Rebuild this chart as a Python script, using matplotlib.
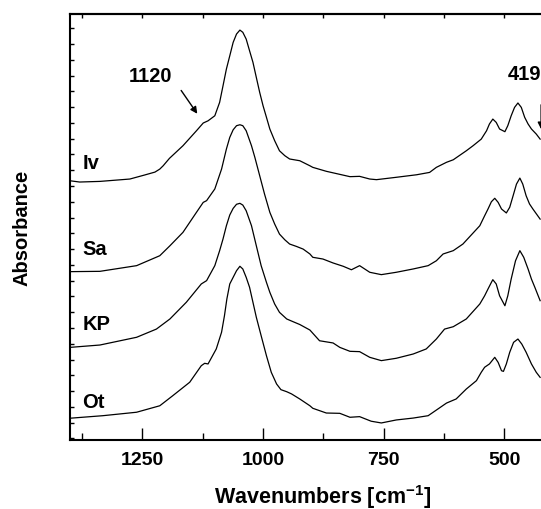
import numpy as np
import matplotlib
matplotlib.use('Agg')
import matplotlib.pyplot as plt
from matplotlib.ticker import MultipleLocator

plt.rcParams['font.family'] = ['Liberation Sans', 'DejaVu Sans']
plt.rcParams['mathtext.fontset'] = 'custom'
plt.rcParams['mathtext.rm'] = 'Liberation Sans'
plt.rcParams['mathtext.bf'] = 'Liberation Sans:bold'
plt.rcParams['mathtext.default'] = 'bf'

# spectra (wavenumber, absorbance in arbitrary offset units)
iv_wn = [1400, 1380, 1338, 1276, 1246, 1224, 1214, 1207, 1194, 1166, 1138, 1124, 1114, 1100,
         1090, 1083, 1076, 1069, 1062, 1055, 1048, 1042, 1035, 1028, 1021, 1014, 1007, 1000,
         993, 986, 976, 966, 955, 945, 924, 903, 897, 869, 820, 800, 779, 765, 724, 682,
         655, 641, 620, 606, 579, 565, 548, 537, 531, 524, 517, 510, 499, 493, 486, 479,
         472, 465, 458, 451, 444, 434, 426]
iv_ab = [1.633, 1.625, 1.629, 1.644, 1.669, 1.688, 1.707, 1.728, 1.775, 1.855, 1.950, 1.999,
         2.013, 2.045, 2.130, 2.235, 2.341, 2.425, 2.510, 2.563, 2.588, 2.574, 2.531, 2.457,
         2.384, 2.288, 2.193, 2.108, 2.035, 1.961, 1.887, 1.823, 1.792, 1.771, 1.760, 1.728,
         1.718, 1.693, 1.659, 1.661, 1.644, 1.640, 1.655, 1.671, 1.686, 1.718, 1.750, 1.766,
         1.823, 1.855, 1.897, 1.950, 1.993, 2.024, 2.003, 1.961, 1.944, 1.982, 2.045, 2.098,
         2.126, 2.098, 2.035, 1.993, 1.961, 1.929, 1.897]

sa_wn = [1400, 1338, 1262, 1214, 1193, 1166, 1138, 1124, 1117, 1100, 1086, 1076, 1069, 1062,
         1055, 1048, 1042, 1035, 1024, 1017, 1007, 997, 986, 976, 966, 955, 945, 931, 917,
         903, 897, 876, 855, 834, 817, 800, 779, 755, 724, 689, 658, 641, 627, 606, 586,
         551, 541, 534, 527, 520, 513, 506, 496, 489, 482, 475, 468, 462, 455, 448, 441, 426]
sa_ab = [1.057, 1.059, 1.095, 1.158, 1.221, 1.306, 1.433, 1.496, 1.507, 1.581, 1.707, 1.834,
         1.908, 1.956, 1.982, 1.988, 1.982, 1.950, 1.855, 1.781, 1.665, 1.549, 1.433, 1.359,
         1.295, 1.259, 1.232, 1.217, 1.200, 1.169, 1.148, 1.137, 1.112, 1.091, 1.069, 1.095,
         1.053, 1.038, 1.053, 1.074, 1.095, 1.126, 1.169, 1.190, 1.232, 1.348, 1.411, 1.454,
         1.500, 1.522, 1.496, 1.454, 1.429, 1.465, 1.538, 1.612, 1.650, 1.612, 1.538, 1.486,
         1.454, 1.390]

kp_wn = [1400, 1338, 1262, 1221, 1193, 1159, 1128, 1117, 1100, 1090, 1083, 1076, 1069, 1062,
         1055, 1048, 1042, 1035, 1024, 1014, 1004, 993, 986, 976, 966, 951, 938, 924, 903,
         883, 855, 841, 820, 800, 779, 755, 724, 689, 662, 641, 624, 606, 579, 551, 541,
         534, 527, 524, 517, 510, 499, 493, 486, 477, 468, 460, 451, 444, 437, 426]
kp_ab = [0.577, 0.592, 0.641, 0.693, 0.757, 0.863, 0.979, 1.000, 1.095, 1.190, 1.264, 1.348,
         1.416, 1.458, 1.484, 1.490, 1.479, 1.443, 1.348, 1.221, 1.095, 0.989, 0.926, 0.852,
         0.799, 0.757, 0.740, 0.722, 0.687, 0.619, 0.605, 0.577, 0.552, 0.550, 0.514, 0.493,
         0.508, 0.535, 0.567, 0.630, 0.693, 0.708, 0.757, 0.852, 0.904, 0.947, 0.989, 1.006,
         0.979, 0.904, 0.841, 0.904, 1.010, 1.126, 1.190, 1.148, 1.074, 1.010, 0.958, 0.873]

ot_wn = [1400, 1332, 1262, 1214, 1187, 1152, 1128, 1121, 1114, 1097, 1086, 1080, 1075, 1069,
         1062, 1055, 1048, 1042, 1035, 1028, 1021, 1014, 1004, 993, 983, 972, 963, 951, 941,
         924, 903, 897, 869, 841, 820, 800, 776, 755, 724, 689, 658, 638, 620, 600, 579,
         558, 548, 541, 531, 520, 513, 506, 502, 496, 489, 481, 472, 464, 455, 444, 434, 426]
ot_ab = [0.128, 0.144, 0.166, 0.207, 0.271, 0.356, 0.461, 0.476, 0.472, 0.567, 0.673, 0.778,
         0.884, 0.979, 1.021, 1.063, 1.091, 1.074, 1.021, 0.958, 0.863, 0.768, 0.651, 0.524,
         0.419, 0.345, 0.309, 0.296, 0.282, 0.250, 0.207, 0.191, 0.161, 0.159, 0.134, 0.138,
         0.109, 0.098, 0.117, 0.129, 0.144, 0.186, 0.224, 0.250, 0.313, 0.366, 0.419, 0.451,
         0.472, 0.514, 0.482, 0.429, 0.425, 0.472, 0.546, 0.609, 0.630, 0.598, 0.546, 0.472,
         0.419, 0.387]

names = ['Iv', 'Sa', 'KP', 'Ot']
name_y = [1.749, 1.204, 0.731, 0.231]

fig = plt.figure(figsize=(5.41, 5.10), dpi=100)
# axes run past the right edge, the original picture is cut off there
ax = fig.add_axes([0.1294, 0.1353, 0.9368, 0.8353])

for wn, ab in [(iv_wn, iv_ab), (sa_wn, sa_ab), (kp_wn, kp_ab), (ot_wn, ot_ab)]:
    ax.plot(wn, ab, color='black', lw=0.9)

for name, y in zip(names, name_y):
    ax.text(1374, y, name, fontsize=14.5, fontweight='bold', ha='left', va='center')

# band markers
ax.annotate('', xy=(1133, 2.043), xytext=(1173, 2.22),
            arrowprops=dict(arrowstyle='-|>', color='black', lw=1, mutation_scale=10))
ax.text(1234, 2.30, '1120', fontsize=14.5, fontweight='bold', ha='center', va='center')
ax.annotate('', xy=(424, 1.942), xytext=(424, 2.132),
            arrowprops=dict(arrowstyle='-|>', color='black', lw=1, mutation_scale=10))
ax.text(494, 2.31, '419', fontsize=14.5, fontweight='bold', ha='left', va='center')

ax.set_xlim(1400, 350)
ax.set_ylim(-0.01, 2.69)

ax.xaxis.set_major_locator(MultipleLocator(250))
ax.xaxis.set_minor_locator(MultipleLocator(125))
ax.yaxis.set_major_locator(MultipleLocator(0.1))
ax.tick_params(axis='x', which='major', direction='in', length=9, width=1, labelsize=14, pad=8)
ax.tick_params(axis='x', which='minor', direction='in', length=5, width=1)
ax.tick_params(axis='y', direction='in', length=3, width=1, labelleft=False)
for lab in ax.get_xticklabels():
    lab.set_fontweight('bold')

top = ax.secondary_xaxis('top')
top.set_xticks(np.arange(375, 1400, 125))
top.tick_params(direction='in', length=3, width=1, labeltop=False)

for sp in ax.spines.values():
    sp.set_linewidth(1.5)
top.spines['top'].set_linewidth(1.5)

ax.set_xlabel('Wavenumbers [cm$^{-1}$]', fontsize=15.5, fontweight='bold')
ax.xaxis.set_label_coords(0.499, -0.1)
ax.set_ylabel('Absorbance', fontsize=14.5, fontweight='bold')
ax.yaxis.set_label_coords(-0.075, 0.5)

fig.savefig('out.png', dpi=100)
